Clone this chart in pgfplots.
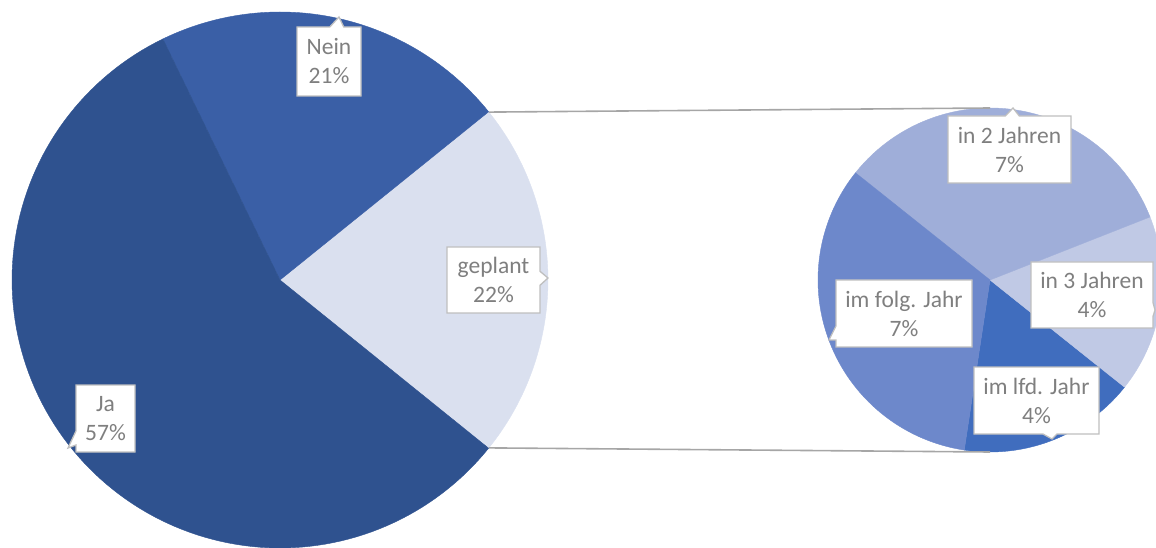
\documentclass[border=0pt]{standalone}
\usepackage{pgfplots}
\pgfplotsset{compat=1.18}
\usepackage{fontspec}
\setmainfont{Carlito}
\usetikzlibrary{shapes.callouts}
\definecolor{cJa}{HTML}{2F528F}
\definecolor{cNein}{HTML}{3A5FA6}
\definecolor{cGeplant}{HTML}{DAE0EF}
\definecolor{cZwei}{HTML}{9FAED9}
\definecolor{cDrei}{HTML}{C0C9E5}
\definecolor{cLfd}{HTML}{406DBE}
\definecolor{cFolg}{HTML}{6D88CB}
\definecolor{cBorder}{HTML}{BFBFBF}
\definecolor{cText}{HTML}{7F7F7F}
\definecolor{cLine}{HTML}{A6A6A6}
\tikzset{lbl/.style={rectangle callout, fill=white, draw=cBorder, line width=1.3bp,
    text=cText, align=center, font=\fontsize{23.5bp}{29bp}\selectfont,
    inner sep=0pt, callout pointer width=14bp}}
% data (percent)
\def\vJa{57}\def\vNein{21.4}\def\vGeplant{21.6}
\def\vLfd{3.67}\def\vDrei{3.67}\def\vZwei{7.33}\def\vFolg{7.33}
% angles main pie
\pgfmathsetmacro\aA{-1.8*\vGeplant}
\pgfmathsetmacro\aB{\aA+3.6*\vGeplant}
\pgfmathsetmacro\aC{\aB+3.6*\vNein}
\pgfmathsetmacro\aD{\aC+3.6*\vJa}
% angles secondary pie
\pgfmathsetmacro\sT{\vLfd+\vDrei+\vZwei+\vFolg}
\pgfmathsetmacro\bA{-98.6}
\pgfmathsetmacro\bB{\bA+360*\vLfd/\sT}
\pgfmathsetmacro\bC{\bB+360*\vDrei/\sT}
\pgfmathsetmacro\bD{\bC+360*\vZwei/\sT}
\pgfmathsetmacro\bE{\bD+360*\vFolg/\sT}
\newcommand{\pieslice}[6]{%
  \addplot[fill=#1, draw=#1, line width=0.4pt, domain=#5:#6, samples=120, variable=\t]
    ({#2+#4*cos(\t)},{#3+#4*sin(\t)}) -- (axis cs:#2,#3) -- cycle;}
\begin{document}
\begin{tikzpicture}
\begin{axis}[width=1156bp, height=547bp, scale only axis, hide axis,
  xmin=0, xmax=1156, ymin=0, ymax=547, clip=true]
% main pie (center 280,267; r=268)
\pieslice{cGeplant}{280}{267}{268}{\aA}{\aB}
\pieslice{cNein}{280}{267}{268}{\aB}{\aC}
\pieslice{cJa}{280}{267}{268}{\aC}{\aD}
% secondary pie (center 990,267; r=172)
\pieslice{cLfd}{990}{267}{172}{\bA}{\bB}
\pieslice{cDrei}{990}{267}{172}{\bB}{\bC}
\pieslice{cZwei}{990}{267}{172}{\bC}{\bD}
\pieslice{cFolg}{990}{267}{172}{\bD}{\bE}
% connector lines
\addplot[cLine, line width=1.6bp] coordinates {(488.9,434.9) (990,439)};
\addplot[cLine, line width=1.6bp] coordinates {(488.9,99.1) (990,95)};
% labels
\node[lbl, minimum width=64bp, minimum height=69bp, callout absolute pointer={(axis cs:339,530)}] at (axis cs:329,485.5) {Nein\\21\%};
\node[lbl, minimum width=93bp, minimum height=66bp, callout absolute pointer={(axis cs:548,269)}] at (axis cs:493.5,267) {geplant\\22\%};
\node[lbl, minimum width=59bp, minimum height=67bp, callout absolute pointer={(axis cs:68,99)}] at (axis cs:105.5,128.5) {Ja\\57\%};
\node[lbl, minimum width=123bp, minimum height=67bp, callout absolute pointer={(axis cs:1013,439)}] at (axis cs:1009.5,397.5) {in 2 Jahren\\7\%};
\node[lbl, minimum width=122bp, minimum height=66bp, callout absolute pointer={(axis cs:1155,237)}] at (axis cs:1092,252) {in 3 Jahren\\4\%};
\node[lbl, minimum width=136bp, minimum height=67bp, callout absolute pointer={(axis cs:829,207)}] at (axis cs:904,233.5) {im folg. Jahr\\7\%};
\node[lbl, minimum width=125bp, minimum height=67bp, callout absolute pointer={(axis cs:1052,108)}] at (axis cs:1036.5,146.5) {im lfd. Jahr\\4\%};
\end{axis}
\pgfresetboundingbox
\path[use as bounding box] (current axis.south west) rectangle (current axis.north east);
\end{tikzpicture}
\end{document}
